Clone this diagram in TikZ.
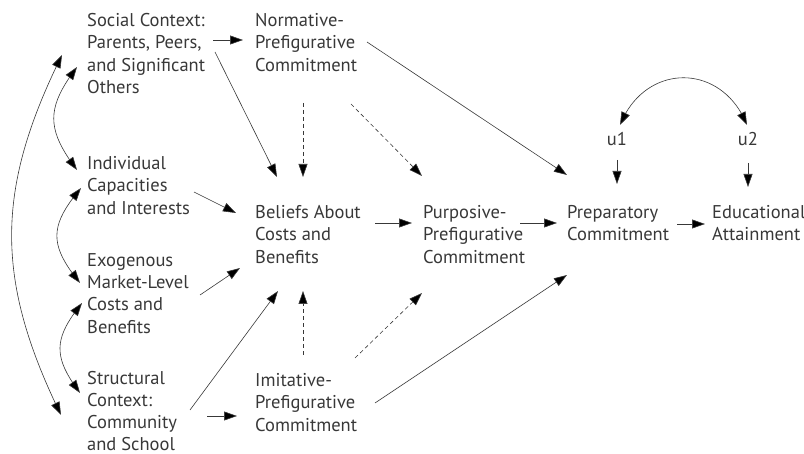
\documentclass[tikz,border=0pt]{standalone}
\usepackage{fontspec}
\setmainfont{PT Sans}
\usetikzlibrary{arrows.meta,bending}
\definecolor{ink}{HTML}{383838}
\begin{document}
\begin{tikzpicture}[x=1pt,y=-1pt,
  lbl/.style={anchor=north west,inner sep=0pt,align=left,text=ink,font=\fontsize{18.5}{22.4}\selectfont},
  tight/.style={font=\fontsize{18.5}{22}\selectfont},
  arr/.style={draw=ink,line width=0.6pt,-{Triangle[length=13pt,width=9pt,fill=black]}},
  darr/.style={arr,dash pattern=on 4pt off 3pt},
  barr/.style={draw=ink,line width=0.6pt,{Triangle[length=13pt,width=9pt,fill=black]}-{Triangle[length=13pt,width=9pt,fill=black]}}]
\useasboundingbox (0,0) rectangle (804,454);

\node[lbl] (soc) at (87,13) {Social Context:\\Parents, Peers,\\and Significant\\Others};
\node[lbl] (nor) at (255,13) {Normative-\\Prefigurative\\Commitment};
\node[lbl] (ind) at (87,156) {Individual\\Capacities\\and Interests};
\node[lbl] (exo) at (87,253) {Exogenous\\Market-Level\\Costs and\\Benefits};
\node[lbl,tight] (str) at (87,371) {Structural\\Context:\\Community\\and School};
\node[lbl] (bel) at (255,205) {Beliefs About\\Costs and\\Benefits};
\node[lbl] (imi) at (255,373) {Imitative-\\Prefigurative\\Commitment};
\node[lbl] (pur) at (423,205) {Purposive-\\Prefigurative\\Commitment};
\node[lbl] (pre) at (567,205) {Preparatory\\Commitment};
\node[lbl] (edu) at (712,205) {Educational\\Attainment};
\node[lbl,anchor=center] (u1) at (617,139) {u1};
\node[lbl,anchor=center] (u2) at (748,139) {u2};

\draw[arr] ([shift={(126,27)}]soc.north west) -- ([shift={(-12,27)}]nor.north west);
\draw[arr] ([shift={(128,39)}]soc.north west) -- ([shift={(22,-28)}]bel.north west);
\draw[darr] ([shift={(48,90)}]nor.north west) -- ([shift={(48,-28)}]bel.north west);
\draw[darr] ([shift={(96,91)}]nor.north west) -- ([shift={(-1,-29)}]pur.north west);
\draw[arr] ([shift={(112,29)}]nor.north west) -- ([shift={(0,-30)}]pre.north west);
\draw[arr] ([shift={(0,21)}]u1.center) -- ([shift={(50,-21)}]pre.north west);
\draw[arr] ([shift={(0,24)}]u2.center) -- ([shift={(36,-18)}]edu.north west);
\draw[barr] ([shift={(3,-14)}]u1.center) .. controls +(25,-63) and +(-25,-63) .. ([shift={(-1,-14)}]u2.center);
\draw[arr] ([shift={(107,36)}]ind.north west) -- ([shift={(-19,8)}]bel.north west);
\draw[arr] ([shift={(113,42)}]exo.north west) -- ([shift={(-15,63)}]bel.north west);
\draw[arr] ([shift={(120,18)}]bel.north west) -- ([shift={(-11,18)}]pur.north west);
\draw[arr] ([shift={(97,18)}]pur.north west) -- ([shift={(-10,18)}]pre.north west);
\draw[arr] ([shift={(110,19)}]pre.north west) -- ([shift={(-7,19)}]edu.north west);
\draw[arr] ([shift={(103,39)}]str.north west) -- ([shift={(23,86)}]bel.north west);
\draw[darr] ([shift={(48,-18)}]imi.north west) -- ([shift={(48,86)}]bel.north west);
\draw[darr] ([shift={(100,-15)}]imi.north west) -- ([shift={(-1,88)}]pur.north west);
\draw[arr] ([shift={(120,30)}]imi.north west) -- ([shift={(0,70)}]pre.north west);
\draw[arr] ([shift={(120,45)}]str.north west) -- ([shift={(-18,43)}]imi.north west);

\draw[barr] ([shift={(-10,54)}]soc.north west) .. controls +(-31,41) and +(-31,-41) .. ([shift={(-10,14)}]ind.north west);
\draw[barr] ([shift={(-6,32)}]ind.north west) .. controls +(-32,38) and +(-31,-38) .. ([shift={(-7,30)}]exo.north west);
\draw[barr] ([shift={(-5,50)}]exo.north west) .. controls +(-29,36) and +(-27,-36) .. ([shift={(-7,22)}]str.north west);
\draw[barr] ([shift={(-25,42)}]soc.north west) .. controls +(-67,135) and +(-66,-135) .. ([shift={(-26,44)}]str.north west);
\end{tikzpicture}
\end{document}
